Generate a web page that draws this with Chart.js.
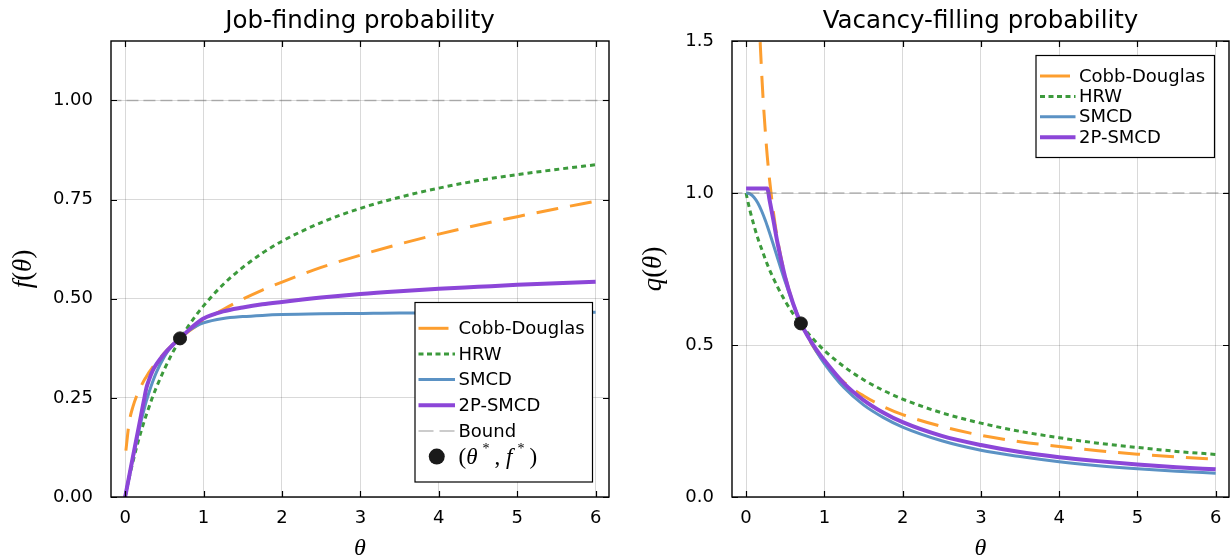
<!DOCTYPE html>
<html>
<head>
<meta charset="utf-8">
<script src="https://cdn.jsdelivr.net/npm/chart.js@4.4.1/dist/chart.umd.min.js"></script>
<style>
  html, body { margin: 0; padding: 0; background: #fff; overflow: hidden; }
  #wrap { position: relative; width: 1230px; height: 556px; }
  canvas { position: absolute; top: 0; }
  #jobChart { left: 0; }
  #vacChart { left: 615px; }
</style>
</head>
<body>
<div id="wrap">
  <canvas id="jobChart" width="615" height="556"></canvas>
  <canvas id="vacChart" width="615" height="556"></canvas>
</div>
<script>
// market tightness grid
const theta = [0, 0.01, 0.05, 0.1, 0.15, 0.2, 0.25, 0.27, 0.3, 0.35, 0.4, 0.5, 0.6, 0.7, 0.8, 0.9, 1, 1.25, 1.5, 1.75, 2, 2.5, 3, 3.5, 4, 4.5, 5, 5.5, 6];

// job-finding probability f(theta)
const fCobbDouglas = [null, 0.117, 0.186, 0.228, 0.256, 0.278, 0.297, 0.303, 0.313, 0.327, 0.340, 0.363, 0.383, 0.400, 0.416, 0.430, 0.444, 0.473, 0.499, 0.522, 0.542, 0.579, 0.610, 0.638, 0.663, 0.686, 0.707, 0.727, 0.746];
const fHRW = [0, 0.010, 0.047, 0.089, 0.128, 0.163, 0.195, 0.207, 0.224, 0.252, 0.277, 0.322, 0.362, 0.397, 0.429, 0.457, 0.482, 0.536, 0.579, 0.615, 0.645, 0.692, 0.728, 0.756, 0.779, 0.798, 0.813, 0.826, 0.838];
const fSMCD = [0, 0.010, 0.050, 0.099, 0.145, 0.188, 0.227, 0.241, 0.261, 0.290, 0.315, 0.354, 0.382, 0.401, 0.418, 0.430, 0.439, 0.450, 0.455, 0.458, 0.460, 0.462, 0.463, 0.464, 0.464, 0.465, 0.465, 0.465, 0.466];
const f2PSMCD = [0, 0.010, 0.051, 0.102, 0.152, 0.203, 0.254, 0.274, 0.293, 0.318, 0.335, 0.361, 0.382, 0.400, 0.419, 0.436, 0.450, 0.468, 0.478, 0.486, 0.492, 0.503, 0.512, 0.519, 0.525, 0.530, 0.535, 0.539, 0.543];

// vacancy-filling probability q(theta)
const qCobbDouglas = [null, null, null, 2.28, 1.706, 1.39, 1.187, 1.122, 1.043, 0.935, 0.850, 0.726, 0.638, 0.571, 0.520, 0.478, 0.444, 0.378, 0.333, 0.298, 0.271, 0.232, 0.203, 0.182, 0.166, 0.152, 0.141, 0.132, 0.124];
const qHRW = [1, 0.987, 0.942, 0.894, 0.851, 0.815, 0.779, 0.766, 0.747, 0.719, 0.692, 0.644, 0.603, 0.567, 0.536, 0.508, 0.482, 0.429, 0.386, 0.351, 0.322, 0.277, 0.243, 0.216, 0.195, 0.177, 0.163, 0.150, 0.140];
const qSMCD = [1, 1, 0.997, 0.986, 0.967, 0.940, 0.907, 0.892, 0.869, 0.829, 0.788, 0.708, 0.636, 0.573, 0.523, 0.478, 0.439, 0.360, 0.303, 0.262, 0.230, 0.185, 0.154, 0.133, 0.116, 0.103, 0.093, 0.085, 0.078];
const q2PSMCD = [1.015, 1.015, 1.015, 1.015, 1.015, 1.015, 1.015, 1.015, 0.977, 0.909, 0.838, 0.722, 0.637, 0.571, 0.524, 0.484, 0.450, 0.374, 0.319, 0.278, 0.246, 0.201, 0.171, 0.148, 0.131, 0.118, 0.107, 0.098, 0.091];

// calibration point and upper bound
const thetaStar = 0.7;
const fStar = 0.40;
const qStar = 0.571;
const boundLevel = 1;

const xTicks = [0, 1, 2, 3, 4, 5, 6];
const jobYTicks = [0, 0.25, 0.5, 0.75, 1.0];
const vacYTicks = [0, 0.5, 1.0, 1.5];

Chart.defaults.font.family = '"DejaVu Sans", sans-serif';
Chart.defaults.color = '#000';

const MATH_FONT = '"Liberation Serif", "DejaVu Serif", serif';

// draws a run of plain / italic / superscript pieces, e.g. f(θ)
function drawMath(ctx, runs, x, y, size, align) {
  const fontOf = s => (s === 'i' ? 'italic ' : '') + (s === 'sup' ? Math.round(size * 0.62) : size) + 'px ' + MATH_FONT;
  const gap = s => (s === 'sup' ? size * 0.22 : 0);
  let w = 0;
  runs.forEach(([t, s]) => { ctx.font = fontOf(s); w += ctx.measureText(t).width + 2 * gap(s); });
  let cx = align === 'center' ? x - w / 2 : x;
  ctx.textAlign = 'left';
  ctx.textBaseline = 'alphabetic';
  runs.forEach(([t, s]) => {
    ctx.font = fontOf(s);
    cx += gap(s);
    ctx.fillText(t, cx, s === 'sup' ? y - size * 0.45 : y);
    cx += ctx.measureText(t).width + gap(s);
  });
}

function series(label, values, color, width, dash, order, extra) {
  return Object.assign({
    label: label,
    data: theta.map((t, i) => ({ x: t, y: values[i] })).filter(p => p.y !== null),
    borderColor: color,
    backgroundColor: color,
    borderWidth: width,
    borderDash: dash,
    pointRadius: 0,
    fill: false,
    cubicInterpolationMode: 'monotone',
    order: order,
    inKey: true,
  }, extra || {});
}

function boundLine(show) {
  return {
    label: 'Bound',
    data: [{ x: -0.2, y: boundLevel }, { x: 6.2, y: boundLevel }],
    borderColor: 'rgba(120,120,120,0.5)',
    borderWidth: 1.5,
    borderDash: [12, 5],
    pointRadius: 0,
    order: 2,
    inKey: show,
    keyDash: [15, 6],
  };
}

function starPoint(yVal, show) {
  return {
    type: 'scatter',
    label: 'star',
    data: [{ x: thetaStar, y: yVal }],
    backgroundColor: '#1a1a1a',
    borderColor: '#1a1a1a',
    pointRadius: 6.5,
    order: 1,
    inKey: show,
    keyMath: [['(', ''], ['θ', 'i'], ['*', 'sup'], [', ', ''], ['f', 'i'], ['*', 'sup'], [')', '']],
  };
}

// box frame with inward ticks on all four sides, titles and axis guides
const framePlugin = {
  id: 'framePlugin',
  afterDraw(chart, args, opts) {
    const { ctx, chartArea: a } = chart;
    const x = chart.scales.x, y = chart.scales.y;
    ctx.save();
    ctx.strokeStyle = '#000';
    ctx.lineWidth = 1.2;
    ctx.beginPath();
    x.ticks.forEach(t => {
      const px = Math.round(x.getPixelForValue(t.value)) + 0.5;
      ctx.moveTo(px, a.bottom); ctx.lineTo(px, a.bottom - 6);
      ctx.moveTo(px, a.top); ctx.lineTo(px, a.top + 6);
    });
    y.ticks.forEach(t => {
      const py = Math.round(y.getPixelForValue(t.value)) + 0.5;
      ctx.moveTo(a.left, py); ctx.lineTo(a.left + 6, py);
      ctx.moveTo(a.right, py); ctx.lineTo(a.right - 6, py);
    });
    ctx.stroke();
    ctx.lineWidth = 1.4;
    ctx.strokeRect(a.left, a.top, a.right - a.left, a.bottom - a.top);

    const cx = (a.left + a.right) / 2;
    ctx.fillStyle = '#000';
    ctx.font = '24.5px "DejaVu Sans", sans-serif';
    ctx.textAlign = 'center';
    ctx.textBaseline = 'alphabetic';
    ctx.fillText(opts.title, cx, 28);

    drawMath(ctx, [['θ', 'i']], cx, 555, 24, 'center');

    ctx.translate(opts.yGuideX, (a.top + a.bottom) / 2);
    ctx.rotate(-Math.PI / 2);
    drawMath(ctx, opts.yGuide, 0, 0, 27, 'center');
    ctx.restore();
  }
};

// framed key in the plot corner
const keyPlugin = {
  id: 'keyPlugin',
  afterDraw(chart, args, k) {
    const ctx = chart.ctx;
    ctx.save();
    ctx.fillStyle = '#fff';
    ctx.fillRect(k.x, k.y, k.w, k.h);
    ctx.strokeStyle = '#000';
    ctx.lineWidth = 1.2;
    ctx.strokeRect(k.x, k.y, k.w, k.h);
    let row = 0;
    chart.data.datasets.forEach(ds => {
      if (!ds.inKey) return;
      const cy = k.row0 + row * k.rowGap;
      if (ds.type === 'scatter') {
        ctx.fillStyle = ds.backgroundColor;
        ctx.beginPath();
        ctx.arc((k.lineX0 + k.lineX1) / 2, cy, 8, 0, Math.PI * 2);
        ctx.fill();
        ctx.fillStyle = '#000';
        drawMath(ctx, ds.keyMath, k.textX, cy + 7, 23, 'left');
      } else {
        ctx.strokeStyle = ds.borderColor;
        ctx.lineWidth = ds.borderWidth;
        ctx.setLineDash(ds.keyDash || ds.borderDash || []);
        ctx.beginPath();
        ctx.moveTo(k.lineX0, cy);
        ctx.lineTo(k.lineX1, cy);
        ctx.stroke();
        ctx.setLineDash([]);
        ctx.fillStyle = '#000';
        ctx.font = '18px "DejaVu Sans", sans-serif';
        ctx.textAlign = 'left';
        ctx.textBaseline = 'middle';
        ctx.fillText(ds.label, k.textX, cy + 1);
      }
      row++;
    });
    ctx.restore();
  }
};

function scalesFor(yMax, yTicks, yDigits, yWidth) {
  return {
    x: {
      type: 'linear',
      min: -0.18,
      max: 6.17,
      afterBuildTicks: s => { s.ticks = xTicks.map(v => ({ value: v })); },
      afterFit: s => { s.height = 59; s.paddingLeft = 0; s.paddingRight = 0; },
      grid: { color: 'rgba(0,0,0,0.15)', lineWidth: 1, drawTicks: false },
      border: { display: false },
      ticks: { padding: 11, font: { size: 18 }, color: '#000', callback: v => String(v) },
    },
    y: {
      type: 'linear',
      min: 0,
      max: yMax,
      afterBuildTicks: s => { s.ticks = yTicks.map(v => ({ value: v })); },
      afterFit: s => { s.width = yWidth; s.paddingTop = 0; s.paddingBottom = 0; },
      grid: { color: 'rgba(0,0,0,0.15)', lineWidth: 1, drawTicks: false },
      border: { display: false },
      ticks: { padding: 18, font: { size: 18 }, color: '#000', callback: v => Number(v).toFixed(yDigits) },
    },
  };
}

const ORANGE = '#fd9e2f', GREEN = '#3c9a3c', BLUE = '#5b92c4', PURPLE = '#8c46d8';

const jobChart = new Chart(document.getElementById('jobChart'), {
  type: 'line',
  data: {
    datasets: [
      series('Cobb-Douglas', fCobbDouglas, ORANGE, 3, [22, 12], 6, { keyDash: [30, 40] }),
      series('HRW', fHRW, GREEN, 3, [5, 4], 5, { keyDash: [5, 3.5] }),
      series('SMCD', fSMCD, BLUE, 3, [], 4),
      series('2P-SMCD', f2PSMCD, PURPLE, 4, [], 3),
      boundLine(true),
      starPoint(fStar, true),
    ],
  },
  options: {
    responsive: false,
    animation: false,
    layout: { autoPadding: false, padding: { top: 41, right: 6, bottom: 0, left: 0 } },
    scales: scalesFor(1.15, jobYTicks, 2, 111),
    plugins: {
      legend: { display: false },
      tooltip: { enabled: false },
      framePlugin: { title: 'Job-finding probability', yGuideX: 31, yGuide: [['f', 'i'], ['(', ''], ['θ', 'i'], [')', '']] },
      keyPlugin: { x: 415, y: 302.5, w: 177.5, h: 179.5, row0: 328.3, rowGap: 25.65, lineX0: 418.5, lineX1: 455, textX: 458.5 },
    },
  },
  plugins: [framePlugin, keyPlugin],
});

const vacChart = new Chart(document.getElementById('vacChart'), {
  type: 'line',
  data: {
    datasets: [
      series('Cobb-Douglas', qCobbDouglas, ORANGE, 3, [22, 12], 6, { keyDash: [30, 40] }),
      series('HRW', qHRW, GREEN, 3, [5, 4], 5, { keyDash: [5, 3.5] }),
      series('SMCD', qSMCD, BLUE, 3, [], 4),
      series('2P-SMCD', q2PSMCD, PURPLE, 4, [], 3),
      boundLine(false),
      starPoint(qStar, false),
    ],
  },
  options: {
    responsive: false,
    animation: false,
    layout: { autoPadding: false, padding: { top: 41, right: 1, bottom: 0, left: 0 } },
    scales: scalesFor(1.5, vacYTicks, 1, 117),
    plugins: {
      legend: { display: false },
      tooltip: { enabled: false },
      framePlugin: { title: 'Vacancy-filling probability', yGuideX: 46, yGuide: [['q', 'i'], ['(', ''], ['θ', 'i'], [')', '']] },
      keyPlugin: { x: 421, y: 55.5, w: 178.5, h: 102, row0: 76, rowGap: 20.4, lineX0: 425, lineX1: 460.5, textX: 464 },
    },
  },
  plugins: [framePlugin, keyPlugin],
});
</script>
</body>
</html>
